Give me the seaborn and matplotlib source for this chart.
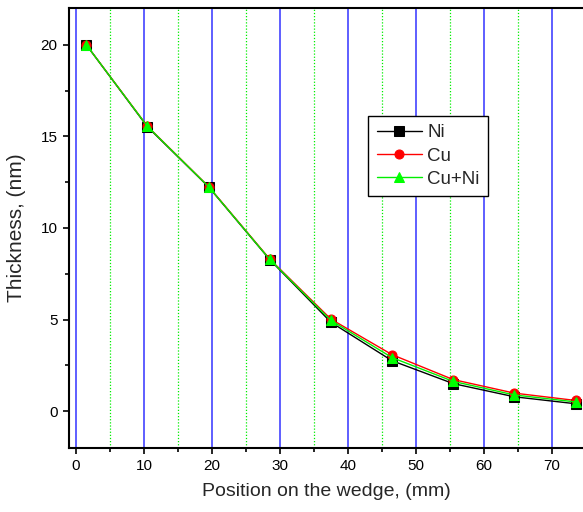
import matplotlib
matplotlib.use("Agg")
import matplotlib.pyplot as plt
import seaborn as sns
import pandas as pd
from matplotlib.ticker import MultipleLocator

# Measured film thickness along the wedge
position_mm = [1.5, 10.5, 19.5, 28.5, 37.5, 46.5, 55.5, 64.5, 73.5]
ni_nm = [20.0, 15.52, 12.24, 8.27, 4.85, 2.75, 1.50, 0.78, 0.40]
cu_nm = [20.0, 15.55, 12.26, 8.30, 5.02, 3.08, 1.72, 0.98, 0.58]
cuni_nm = [20.0, 15.54, 12.25, 8.28, 4.95, 2.92, 1.62, 0.88, 0.50]

series_names = ["Ni", "Cu", "Cu+Ni"]
series_values = [ni_nm, cu_nm, cuni_nm]

x_major_ticks = [0, 10, 20, 30, 40, 50, 60, 70]
y_major_ticks = [0, 5, 10, 15, 20]

sns.set_theme(style="ticks")
plt.rcParams["font.family"] = ["Liberation Sans", "DejaVu Sans"]

frames = []
for name, vals in zip(series_names, series_values):
    frames.append(pd.DataFrame({"Position": position_mm, "Thickness": vals, "Sample": name}))
df = pd.concat(frames, ignore_index=True)

fig = plt.figure(figsize=(5.83, 5.12), dpi=100)
ax = fig.add_axes([0.1189, 0.1256, 0.8811, 0.8584])

styles = {
    "Ni": dict(color="black", marker="s", mfc="black", mec="black"),
    "Cu": dict(color="red", marker="o", mfc="red", mec="red"),
    "Cu+Ni": dict(color="#00ee00", marker="^", mfc="#00ff00", mec="#00ff00"),
}
for name in series_names:
    st = styles[name]
    sns.lineplot(data=df[df["Sample"] == name], x="Position", y="Thickness",
                 ax=ax, color=st["color"], marker=st["marker"],
                 markerfacecolor=st["mfc"], markeredgecolor=st["mec"],
                 markersize=6.5, linewidth=1.0, label=name, zorder=3)

ax.set_xlim(-1.0, 74.6)
ax.set_ylim(-2.0, 22.0)
ax.xaxis.set_major_locator(MultipleLocator(10))
ax.xaxis.set_minor_locator(MultipleLocator(5))
ax.yaxis.set_major_locator(MultipleLocator(5))
ax.yaxis.set_minor_locator(MultipleLocator(2.5))
ax.set_xticks(x_major_ticks)
ax.set_yticks(y_major_ticks)

# vertical grid: solid blue at major, dotted green at minor positions
ax.grid(False)
ax.xaxis.grid(True, which="major", color="#3333ff", linewidth=1.1, linestyle="-", zorder=0)
ax.xaxis.grid(True, which="minor", color="#00ee00", linewidth=0.9, linestyle=(0, (1, 1.5)), zorder=0)
ax.set_axisbelow(True)

ax.tick_params(axis="both", which="major", direction="out", length=4.5, width=1.2,
               labelsize=11, color="black", labelcolor="black", pad=4)
ax.tick_params(axis="both", which="minor", direction="out", length=3, width=1.2, color="black")
ax.tick_params(axis="y", which="both", right=False)
ax.tick_params(axis="x", which="both", top=False)

for side in ["left", "bottom", "top"]:
    ax.spines[side].set_linewidth(1.5)
    ax.spines[side].set_color("black")
ax.spines["right"].set_visible(False)

ax.set_xlabel("Position on the wedge, (mm)", fontsize=14)
ax.xaxis.set_label_coords(0.5, -0.08)
ax.set_ylabel("Thickness, (nm)", fontsize=15)
ax.yaxis.set_label_coords(-0.084, 0.5)

leg = ax.legend(loc="upper left", bbox_to_anchor=(0.582, 0.755), frameon=True,
                fancybox=False, edgecolor="black", fontsize=13.5,
                handlelength=2.4, handletextpad=0.3, borderpad=0.45,
                labelspacing=0.33, borderaxespad=0)
leg.get_frame().set_linewidth(1.0)
leg.get_frame().set_facecolor("white")
leg.get_frame().set_alpha(1.0)

fig.savefig("out.png", dpi=100)
